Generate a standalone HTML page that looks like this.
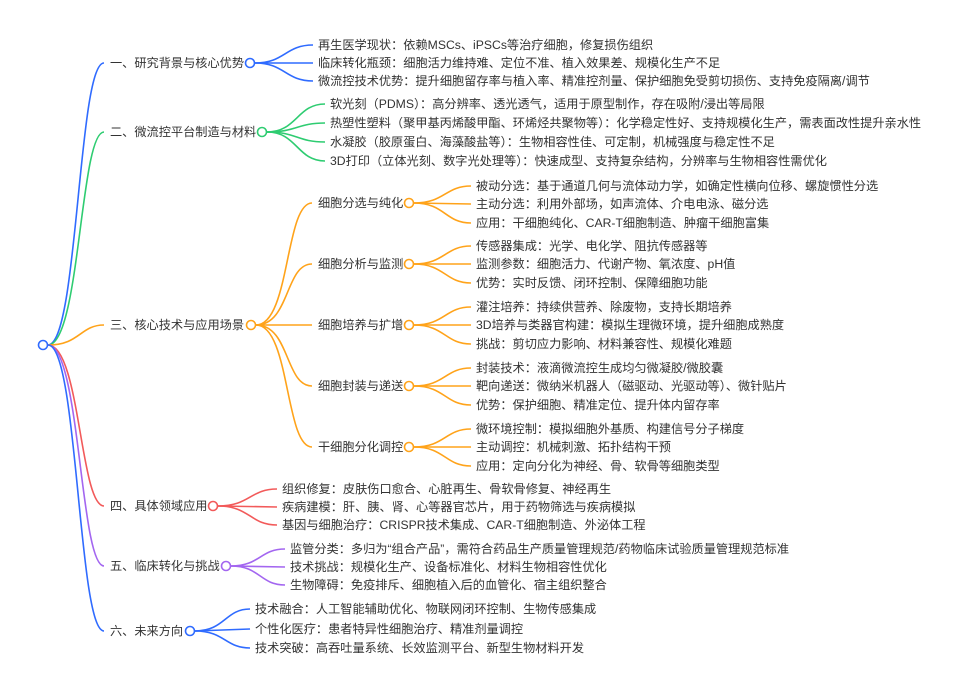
<!DOCTYPE html>
<html><head><meta charset="utf-8"><style>
html,body{margin:0;padding:0;background:#fff;}
svg{display:block}
text{font-family:"Liberation Sans","Noto Sans CJK SC",sans-serif;font-size:12.2px;fill:#333;}
path{fill:none;stroke-width:1.6}
circle{fill:#fff;stroke-width:1.6}
</style></head><body>
<svg width="955" height="691" viewBox="0 0 955 691" xmlns="http://www.w3.org/2000/svg">
<!-- root -->
<g>
<path stroke="#2f6bff" d="M48 345 C 78 345, 78 63, 104 63"/>
<path stroke="#2ecc71" d="M48 345 C 80 345, 80 132, 104 132"/>
<path stroke="#ffa31a" d="M48 345 C 80 345, 80 325, 104 325"/>
<path stroke="#f25a5a" d="M48 345 C 80 345, 80 506, 104 506"/>
<path stroke="#a366f0" d="M48 345 C 80 345, 80 566, 104 566"/>
<path stroke="#2f6bff" d="M48 345 C 78 345, 78 631, 104 631"/>
<circle cx="43" cy="345" r="4.5" stroke="#2f6bff"/>
</g>
<!-- L1 -->
<g>
<text x="110" y="67">一、研究背景与核心优势</text>
<path stroke="#2f6bff" d="M255 63 C 285 63, 285 45, 313 45"/>
<path stroke="#2f6bff" d="M255 63 L 313 63"/>
<path stroke="#2f6bff" d="M255 63 C 285 63, 285 81, 313 81"/>
<circle cx="250" cy="63" r="4.5" stroke="#2f6bff"/>
<text x="318" y="49">再生医学现状：依赖MSCs、iPSCs等治疗细胞，修复损伤组织</text>
<text x="318" y="67">临床转化瓶颈：细胞活力维持难、定位不准、植入效果差、规模化生产不足</text>
<text x="318" y="85">微流控技术优势：提升细胞留存率与植入率、精准控剂量、保护细胞免受剪切损伤、支持免疫隔离/调节</text>
</g>
<!-- L2 -->
<g>
<text x="110" y="136">二、微流控平台制造与材料</text>
<path stroke="#2ecc71" d="M267 132 C 297 132, 297 104, 325 104"/>
<path stroke="#2ecc71" d="M267 132 C 297 132, 297 123, 325 123"/>
<path stroke="#2ecc71" d="M267 132 C 297 132, 297 142, 325 142"/>
<path stroke="#2ecc71" d="M267 132 C 297 132, 297 161, 325 161"/>
<circle cx="262" cy="132" r="4.5" stroke="#2ecc71"/>
<text x="330" y="108">软光刻（PDMS）：高分辨率、透光透气，适用于原型制作，存在吸附/浸出等局限</text>
<text x="330" y="127">热塑性塑料（聚甲基丙烯酸甲酯、环烯烃共聚物等）：化学稳定性好、支持规模化生产，需表面改性提升亲水性</text>
<text x="330" y="146">水凝胶（胶原蛋白、海藻酸盐等）：生物相容性佳、可定制，机械强度与稳定性不足</text>
<text x="330" y="165">3D打印（立体光刻、数字光处理等）：快速成型、支持复杂结构，分辨率与生物相容性需优化</text>
</g>
<!-- L3 -->
<g>
<text x="110" y="329">三、核心技术与应用场景</text>
<path stroke="#ffa31a" d="M256 325 C 290 325, 285 203, 312 203"/>
<path stroke="#ffa31a" d="M256 325 C 290 325, 285 264, 312 264"/>
<path stroke="#ffa31a" d="M256 325 L 312 325"/>
<path stroke="#ffa31a" d="M256 325 C 290 325, 285 386, 312 386"/>
<path stroke="#ffa31a" d="M256 325 C 290 325, 285 447, 312 447"/>
<circle cx="251" cy="325" r="4.5" stroke="#ffa31a"/>

<text x="318" y="207">细胞分选与纯化</text>
<text x="318" y="268">细胞分析与监测</text>
<text x="318" y="329">细胞培养与扩增</text>
<text x="318" y="390">细胞封装与递送</text>
<text x="318" y="451">干细胞分化调控</text>

<path stroke="#ffa31a" d="M414 203 C 445 203, 445 186, 471 186"/>
<path stroke="#ffa31a" d="M414 203 L 471 204"/>
<path stroke="#ffa31a" d="M414 203 C 445 203, 445 223, 471 223"/>
<circle cx="409" cy="203" r="4.5" stroke="#ffa31a"/>
<text x="476" y="190">被动分选：基于通道几何与流体动力学，如确定性横向位移、螺旋惯性分选</text>
<text x="476" y="208">主动分选：利用外部场，如声流体、介电电泳、磁分选</text>
<text x="476" y="227">应用：干细胞纯化、CAR-T细胞制造、肿瘤干细胞富集</text>

<path stroke="#ffa31a" d="M414 264 C 445 264, 445 246, 471 246"/>
<path stroke="#ffa31a" d="M414 264 L 471 264"/>
<path stroke="#ffa31a" d="M414 264 C 445 264, 445 283, 471 283"/>
<circle cx="409" cy="264" r="4.5" stroke="#ffa31a"/>
<text x="476" y="250">传感器集成：光学、电化学、阻抗传感器等</text>
<text x="476" y="268">监测参数：细胞活力、代谢产物、氧浓度、pH值</text>
<text x="476" y="287">优势：实时反馈、闭环控制、保障细胞功能</text>

<path stroke="#ffa31a" d="M414 325 C 445 325, 445 307, 471 307"/>
<path stroke="#ffa31a" d="M414 325 L 471 325"/>
<path stroke="#ffa31a" d="M414 325 C 445 325, 445 344, 471 344"/>
<circle cx="409" cy="325" r="4.5" stroke="#ffa31a"/>
<text x="476" y="311">灌注培养：持续供营养、除废物，支持长期培养</text>
<text x="476" y="329">3D培养与类器官构建：模拟生理微环境，提升细胞成熟度</text>
<text x="476" y="348">挑战：剪切应力影响、材料兼容性、规模化难题</text>

<path stroke="#ffa31a" d="M414 386 C 445 386, 445 368, 471 368"/>
<path stroke="#ffa31a" d="M414 386 L 471 386"/>
<path stroke="#ffa31a" d="M414 386 C 445 386, 445 405, 471 405"/>
<circle cx="409" cy="386" r="4.5" stroke="#ffa31a"/>
<text x="476" y="372">封装技术：液滴微流控生成均匀微凝胶/微胶囊</text>
<text x="476" y="390">靶向递送：微纳米机器人（磁驱动、光驱动等）、微针贴片</text>
<text x="476" y="409">优势：保护细胞、精准定位、提升体内留存率</text>

<path stroke="#ffa31a" d="M414 447 C 445 447, 445 429, 471 429"/>
<path stroke="#ffa31a" d="M414 447 L 471 447"/>
<path stroke="#ffa31a" d="M414 447 C 445 447, 445 466, 471 466"/>
<circle cx="409" cy="447" r="4.5" stroke="#ffa31a"/>
<text x="476" y="433">微环境控制：模拟细胞外基质、构建信号分子梯度</text>
<text x="476" y="451">主动调控：机械刺激、拓扑结构干预</text>
<text x="476" y="470">应用：定向分化为神经、骨、软骨等细胞类型</text>
</g>
<!-- L4 -->
<g>
<text x="110" y="510">四、具体领域应用</text>
<path stroke="#f25a5a" d="M218 506 C 250 506, 250 489, 277 489"/>
<path stroke="#f25a5a" d="M218 506 L 277 507"/>
<path stroke="#f25a5a" d="M218 506 C 250 506, 250 525, 277 525"/>
<circle cx="213" cy="506" r="4.5" stroke="#f25a5a"/>
<text x="282" y="493">组织修复：皮肤伤口愈合、心脏再生、骨软骨修复、神经再生</text>
<text x="282" y="511">疾病建模：肝、胰、肾、心等器官芯片，用于药物筛选与疾病模拟</text>
<text x="282" y="529">基因与细胞治疗：CRISPR技术集成、CAR-T细胞制造、外泌体工程</text>
</g>
<!-- L5 -->
<g>
<text x="110" y="570">五、临床转化与挑战</text>
<path stroke="#a366f0" d="M231 566 C 260 566, 260 549, 285 549"/>
<path stroke="#a366f0" d="M231 566 L 285 567"/>
<path stroke="#a366f0" d="M231 566 C 260 566, 260 585, 285 585"/>
<circle cx="226" cy="566" r="4.5" stroke="#a366f0"/>
<text x="290" y="553">监管分类：多归为“组合产品”，需符合药品生产质量管理规范/药物临床试验质量管理规范标准</text>
<text x="290" y="571">技术挑战：规模化生产、设备标准化、材料生物相容性优化</text>
<text x="290" y="589">生物障碍：免疫排斥、细胞植入后的血管化、宿主组织整合</text>
</g>
<!-- L6 -->
<g>
<text x="110" y="635">六、未来方向</text>
<path stroke="#2f6bff" d="M195 631 C 225 631, 225 609, 250 609"/>
<path stroke="#2f6bff" d="M195 631 L 250 629"/>
<path stroke="#2f6bff" d="M195 631 C 225 631, 225 648, 250 648"/>
<circle cx="190" cy="631" r="4.5" stroke="#2f6bff"/>
<text x="255" y="613">技术融合：人工智能辅助优化、物联网闭环控制、生物传感集成</text>
<text x="255" y="633">个性化医疗：患者特异性细胞治疗、精准剂量调控</text>
<text x="255" y="652">技术突破：高吞吐量系统、长效监测平台、新型生物材料开发</text>
</g>
</svg>
</body></html>
